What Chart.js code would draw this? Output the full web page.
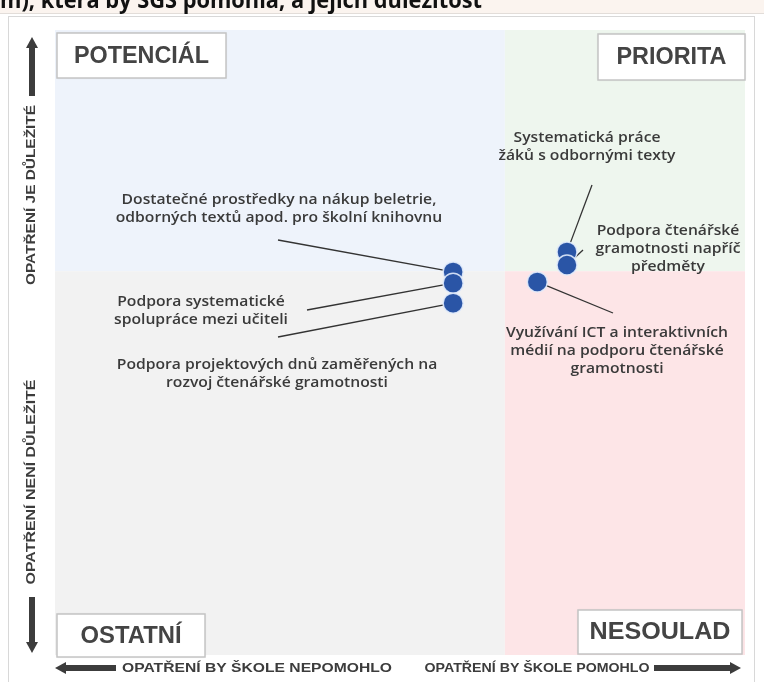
<!DOCTYPE html>
<html lang="cs">
<head>
<meta charset="UTF-8">
<title>Opatření a jejich důležitost</title>
<script src="https://cdn.jsdelivr.net/npm/chart.js"></script>
<style>
  * { margin: 0; padding: 0; }
  body { background: #ffffff; width: 764px; height: 682px; overflow: hidden; }
  canvas { display: block; }
</style>
</head>
<body>
<canvas id="chart" width="764" height="682"></canvas>
<script>
// data
const items = [
  "Dostatečné prostředky na nákup beletrie, odborných textů apod. pro školní knihovnu",
  "Podpora systematické spolupráce mezi učiteli",
  "Podpora projektových dnů zaměřených na rozvoj čtenářské gramotnosti",
  "Systematická práce žáků s odbornými texty",
  "Podpora čtenářské gramotnosti napříč předměty",
  "Využívání ICT a interaktivních médií na podporu čtenářské gramotnosti"
];
const helpValues = [57.7, 57.7, 57.7, 74.2, 74.2, 69.9];        // x: opatření by škole pomohlo
const importanceValues = [61.3, 59.5, 56.3, 64.5, 62.4, 59.7];  // y: důležitost
const xSplit = 65.2;
const ySplit = 61.4;

const quadrantNames = ["POTENCIÁL", "PRIORITA", "OSTATNÍ", "NESOULAD"];
const titleText = "m), která by ŠGŠ pomohla, a jejich důležitost";
const yAxisTexts = ["OPATŘENÍ JE DŮLEŽITÉ", "OPATŘENÍ NENÍ DŮLEŽITÉ"];
const xAxisTexts = ["OPATŘENÍ BY ŠKOLE NEPOMOHLO", "OPATŘENÍ BY ŠKOLE POMOHLO"];

// label text broken into lines, plus where each label sits
const labelLines = [
  ["Dostatečné prostředky na nákup beletrie,", "odborných textů apod. pro školní knihovnu"],
  ["Podpora systematické", "spolupráce mezi učiteli"],
  ["Podpora projektových dnů zaměřených na", "rozvoj čtenářské gramotnosti"],
  ["Systematická práce", "žáků s odbornými texty"],
  ["Podpora čtenářské", "gramotnosti napříč", "předměty"],
  ["Využívání ICT a interaktivních", "médií na podporu čtenářské", "gramotnosti"]
];
const labelLayout = [
  { cx: 279, y: 200, lx: 278, ly: 240 },
  { cx: 201, y: 302, lx: 307, ly: 310 },
  { cx: 277, y: 365, lx: 278, ly: 337 },
  { cx: 587, y: 138, lx: 592, ly: 185 },
  { cx: 668, y: 231, lx: 583, ly: 250 },
  { cx: 617, y: 333, lx: 613, ly: 313 }
];

const DARK = "#3c3c3c";

function fitText(ctx, text, cx, cy, width, font, color) {
  ctx.save();
  ctx.font = font;
  ctx.fillStyle = color;
  ctx.textAlign = "center";
  ctx.textBaseline = "middle";
  const w = ctx.measureText(text).width;
  ctx.translate(cx, cy);
  ctx.scale(width / w, 1);
  ctx.fillText(text, 0, 0);
  ctx.restore();
}

function arrow(ctx, x1, y1, x2, y2) {
  // thick arrow from (x1,y1) pointing to (x2,y2)
  const ang = Math.atan2(y2 - y1, x2 - x1);
  const len = Math.hypot(x2 - x1, y2 - y1);
  ctx.save();
  ctx.translate(x1, y1);
  ctx.rotate(ang);
  ctx.fillStyle = DARK;
  ctx.fillRect(0, -3, len - 9, 6);
  ctx.beginPath();
  ctx.moveTo(len, 0);
  ctx.lineTo(len - 11, -6);
  ctx.lineTo(len - 11, 6);
  ctx.closePath();
  ctx.fill();
  ctx.restore();
}

function box(ctx, x, y, w, h, text, textW) {
  ctx.save();
  ctx.shadowColor = "rgba(0,0,0,0.12)";
  ctx.shadowBlur = 2;
  ctx.fillStyle = "#ffffff";
  ctx.fillRect(x, y, w, h);
  ctx.restore();
  ctx.strokeStyle = "#c4c4c4";
  ctx.lineWidth = 1.5;
  ctx.strokeRect(x, y, w, h);
  fitText(ctx, text, x + w / 2, y + h / 2 + 1, textW, "bold 23px 'Liberation Sans', Arial, sans-serif", "#444444");
}

const quadrantPlugin = {
  id: "quadrants",
  beforeDraw(chart) {
    const { ctx, chartArea: a, scales } = chart;
    const sx = scales.x.getPixelForValue(xSplit);
    const sy = scales.y.getPixelForValue(ySplit);
    ctx.save();
    // page strip with the cut title
    ctx.fillStyle = "#fbf4ef";
    ctx.fillRect(0, 0, 764, 13);
    ctx.fillStyle = "#e2ddd9";
    ctx.fillRect(0, 13, 764, 1);
    ctx.strokeStyle = "#d8d8d8";
    ctx.lineWidth = 1;
    ctx.strokeRect(8.5, 16.5, 746, 670);
    // quadrants
    ctx.fillStyle = "#eef3fb";
    ctx.fillRect(a.left, a.top, sx - a.left, sy - a.top);
    ctx.fillStyle = "#eef6ee";
    ctx.fillRect(sx, a.top, a.right - sx, sy - a.top);
    ctx.fillStyle = "#f2f2f2";
    ctx.fillRect(a.left, sy, sx - a.left, a.bottom - sy);
    ctx.fillStyle = "#fde5e7";
    ctx.fillRect(sx, sy, a.right - sx, a.bottom - sy);
    ctx.restore();
  },
  beforeDatasetsDraw(chart) {
    const { ctx, scales } = chart;
    ctx.save();
    ctx.strokeStyle = "#333333";
    ctx.lineWidth = 1.3;
    labelLayout.forEach((l, i) => {
      const px = scales.x.getPixelForValue(helpValues[i]);
      const py = scales.y.getPixelForValue(importanceValues[i]);
      ctx.beginPath();
      ctx.moveTo(l.lx, l.ly);
      ctx.lineTo(px, py);
      ctx.stroke();
    });
    ctx.restore();
  },
  afterDraw(chart) {
    const { ctx } = chart;
    ctx.save();
    // title (cut off at the top)
    ctx.font = "bold 24px 'Open Sans', 'Liberation Sans', Arial, sans-serif";
    ctx.fillStyle = "#111111";
    ctx.textAlign = "left";
    ctx.textBaseline = "alphabetic";
    const tw = ctx.measureText(titleText).width;
    ctx.save();
    ctx.scale(482 / tw, 1);
    ctx.fillText(titleText, 0, 8);
    ctx.restore();

    // quadrant boxes
    box(ctx, 57, 33, 169, 45, quadrantNames[0], 135);
    box(ctx, 598, 34, 147, 46, quadrantNames[1], 110);
    box(ctx, 57, 614, 148, 43, quadrantNames[2], 101);
    box(ctx, 578, 610, 164, 44, quadrantNames[3], 141);

    // axes arrows and texts
    arrow(ctx, 32, 96, 32, 37);
    arrow(ctx, 32, 597, 32, 653);
    arrow(ctx, 116, 668, 55, 668);
    arrow(ctx, 654, 668, 741, 668);
    const axFont = "bold 12px 'Liberation Sans', Arial, sans-serif";
    fitText(ctx, xAxisTexts[0], 257, 669, 270, axFont, DARK);
    fitText(ctx, xAxisTexts[1], 537, 669, 225, axFont, DARK);
    ctx.save();
    ctx.translate(32, 195);
    ctx.rotate(-Math.PI / 2);
    fitText(ctx, yAxisTexts[0], 0, 0, 180, axFont, DARK);
    ctx.restore();
    ctx.save();
    ctx.translate(32, 482);
    ctx.rotate(-Math.PI / 2);
    fitText(ctx, yAxisTexts[1], 0, 0, 205, axFont, DARK);
    ctx.restore();

    // point labels (the original face is wider, so stretch a bit)
    ctx.font = "600 14px 'Open Sans', 'Liberation Sans', Arial, sans-serif";
    ctx.fillStyle = "#3a3a3a";
    ctx.textAlign = "center";
    ctx.textBaseline = "middle";
    labelLines.forEach((lines, i) => {
      const l = labelLayout[i];
      lines.forEach((t, j) => {
        ctx.save();
        ctx.translate(l.cx, l.y + j * 18);
        ctx.scale(1.12, 1);
        ctx.fillText(t, 0, 0);
        ctx.restore();
      });
    });
    ctx.restore();
  }
};

new Chart(document.getElementById("chart"), {
  type: "scatter",
  data: {
    datasets: [{
      label: "Opatření",
      data: helpValues.map((x, i) => ({ x: x, y: importanceValues[i] })),
      backgroundColor: "#2a55a6",
      borderColor: "rgba(225,235,252,0.9)",
      borderWidth: 1.5,
      pointRadius: 10,
      pointHoverRadius: 10
    }]
  },
  options: {
    responsive: false,
    devicePixelRatio: 1,
    animation: false,
    layout: { padding: { left: 55, right: 19, top: 30, bottom: 27 } },
    plugins: { legend: { display: false }, tooltip: { enabled: false } },
    scales: {
      x: { type: "linear", min: 0, max: 100, display: false },
      y: { type: "linear", min: 0, max: 100, display: false }
    }
  },
  plugins: [quadrantPlugin]
});
</script>
</body>
</html>
